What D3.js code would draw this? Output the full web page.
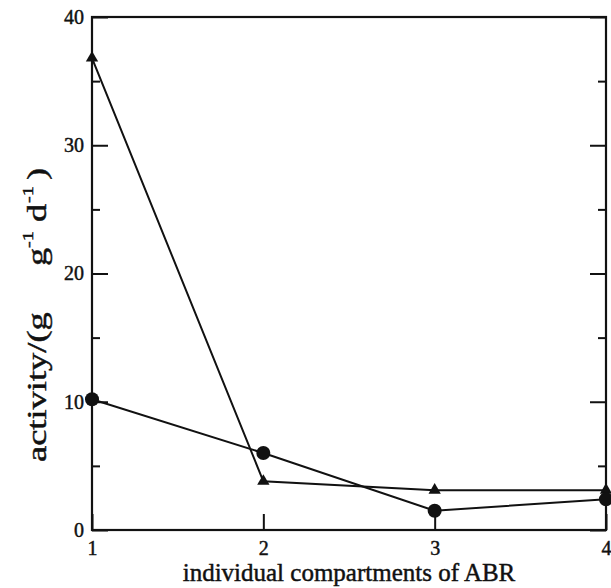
<!DOCTYPE html>
<html>
<head>
<meta charset="utf-8">
<style>
  body { margin: 0; background: #fff; }
  svg text { font-family: "Liberation Serif", "DejaVu Serif", serif; fill: #111; stroke: #111; stroke-width: 0.45px; }
</style>
</head>
<body>
<svg id="chart"></svg>
<script src="https://cdnjs.cloudflare.com/ajax/libs/d3/7.8.5/d3.min.js"></script>
<script>

  // data
  var compartments = [1, 2, 3, 4];
  var circleSeries = [10.2, 6.0, 1.5, 2.4];
  var triangleSeries = [36.8, 3.8, 3.1, 3.1];
  var yMajor = [0, 10, 20, 30, 40];
  var yMinor = [5, 15, 25, 35];
  var xLabel = "individual compartments of ABR";

  var width = 611,
      height = 588,
      margin = {top: 17, right: 5, bottom: 58, left: 92};

  var svg = d3.select("#chart")
              .attr("width", width)
              .attr("height", height);

  var x = d3.scaleLinear().domain([1, 4]).range([margin.left, width - margin.right]);
  var y = d3.scaleLinear().domain([0, 40]).range([height - margin.bottom, margin.top]);

  var plotW = x.range()[1] - x.range()[0],
      plotH = y.range()[0] - y.range()[1];

  // left axis, major with labels, minor without
  svg.append("g")
     .attr("transform", "translate(" + margin.left + ",0)")
     .call(d3.axisLeft(y).tickValues(yMajor).tickSizeInner(-16).tickSizeOuter(0).tickPadding(8))
     .call(function(g) { g.select(".domain").remove(); })
     .call(function(g) { g.selectAll("text").style("font-size", "20px"); });
  svg.append("g")
     .attr("transform", "translate(" + margin.left + ",0)")
     .call(d3.axisLeft(y).tickValues(yMinor).tickSizeInner(-8).tickSizeOuter(0).tickFormat(""))
     .call(function(g) { g.select(".domain").remove(); });

  // right axis ticks
  svg.append("g")
     .attr("transform", "translate(" + x(4) + ",0)")
     .call(d3.axisRight(y).tickValues(yMajor).tickSizeInner(-16).tickSizeOuter(0).tickFormat(""))
     .call(function(g) { g.select(".domain").remove(); });
  svg.append("g")
     .attr("transform", "translate(" + x(4) + ",0)")
     .call(d3.axisRight(y).tickValues(yMinor).tickSizeInner(-8).tickSizeOuter(0).tickFormat(""))
     .call(function(g) { g.select(".domain").remove(); });

  // bottom axis
  svg.append("g")
     .attr("transform", "translate(0," + y(0) + ")")
     .call(d3.axisBottom(x).tickValues(compartments).tickFormat(d3.format("d"))
             .tickSizeInner(-16).tickSizeOuter(0).tickPadding(11))
     .call(function(g) { g.select(".domain").remove(); })
     .call(function(g) { g.selectAll("text").style("font-size", "20px"); });

  svg.selectAll(".tick line").attr("stroke", "#111").attr("stroke-width", 2);

  // frame
  svg.append("rect")
     .attr("x", x(1)).attr("y", y(40))
     .attr("width", plotW).attr("height", plotH)
     .attr("fill", "none").attr("stroke", "#111").attr("stroke-width", 2.2);

  var line = d3.line()
               .x(function(d, i) { return x(compartments[i]); })
               .y(function(d) { return y(d); });

  svg.append("path").datum(triangleSeries)
     .attr("d", line).attr("fill", "none").attr("stroke", "#111").attr("stroke-width", 2);
  svg.append("path").datum(circleSeries)
     .attr("d", line).attr("fill", "none").attr("stroke", "#111").attr("stroke-width", 2);

  svg.selectAll(".tri").data(triangleSeries).enter().append("path")
     .attr("class", "tri")
     .attr("transform", function(d, i) { return "translate(" + x(compartments[i]) + "," + y(d) + ")"; })
     .attr("d", d3.symbol().type(d3.symbolTriangle).size(66))
     .attr("fill", "#111");

  svg.selectAll(".dot").data(circleSeries).enter().append("circle")
     .attr("class", "dot")
     .attr("cx", function(d, i) { return x(compartments[i]); })
     .attr("cy", function(d) { return y(d); })
     .attr("r", 7)
     .attr("fill", "#111");

  // x title
  svg.append("text")
     .attr("x", (x(1) + x(4)) / 2)
     .attr("y", 581)
     .attr("text-anchor", "middle")
     .style("font-size", "25px")
     .text(xLabel);

  // y title, pieces placed along the rotated axis (u = -screen y)
  var ylab = svg.append("g").attr("transform", "translate(46,0) rotate(-90)");
  var parts = [
    {t: "activity/(g", u: -462, dy: 0, fs: 27},
    {t: "g", u: -266, dy: 0, fs: 27},
    {t: "-1", u: -248, dy: -13, fs: 15},
    {t: "d", u: -222, dy: 0, fs: 27},
    {t: "-1", u: -203, dy: -13, fs: 15},
    {t: ")", u: -180, dy: 0, fs: 27}
  ];
  ylab.selectAll("text").data(parts).enter().append("text")
      .attr("transform", function(d) { return "translate(" + d.u + "," + d.dy + ") scale(1.35,1)"; })
      .style("font-size", function(d) { return d.fs + "px"; })
      .text(function(d) { return d.t; });

</script>
</body>
</html>
